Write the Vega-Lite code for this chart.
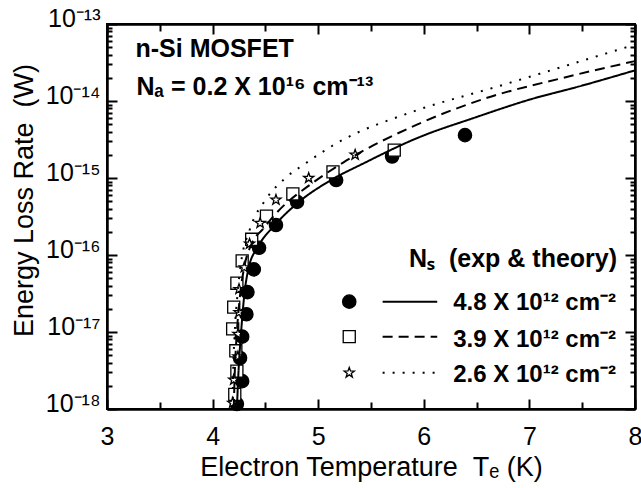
{
  "$schema": "https://vega.github.io/schema/vega-lite/v6.json",
  "width": 528,
  "height": 385,
  "autosize": {"type": "none"},
  "padding": {"left": 107, "top": 24, "right": 6, "bottom": 79},
  "background": "white",
  "config": {
    "view": {"stroke": "black", "strokeWidth": 2}
  },
  "datasets": {
    "theory": [
      {"Ns": "4.8", "T": 4.23, "P": 1.0e-18},
      {"Ns": "4.8", "T": 4.245, "P": 3.0e-18},
      {"Ns": "4.8", "T": 4.27, "P": 1.0e-17},
      {"Ns": "4.8", "T": 4.30, "P": 3.0e-17},
      {"Ns": "4.8", "T": 4.34, "P": 6.7e-17},
      {"Ns": "4.8", "T": 4.43, "P": 1.28e-16},
      {"Ns": "4.8", "T": 4.59, "P": 2.45e-16},
      {"Ns": "4.8", "T": 4.81, "P": 4.8e-16},
      {"Ns": "4.8", "T": 5.11, "P": 9.2e-16},
      {"Ns": "4.8", "T": 5.43, "P": 1.55e-15},
      {"Ns": "4.8", "T": 5.96, "P": 3.4e-15},
      {"Ns": "4.8", "T": 6.47, "P": 6.0e-15},
      {"Ns": "4.8", "T": 7.01, "P": 1.05e-14},
      {"Ns": "4.8", "T": 7.51, "P": 1.6e-14},
      {"Ns": "4.8", "T": 8.0, "P": 2.5e-14},
      {"Ns": "3.9", "T": 4.20, "P": 1.0e-18},
      {"Ns": "3.9", "T": 4.21, "P": 3.0e-18},
      {"Ns": "3.9", "T": 4.23, "P": 1.0e-17},
      {"Ns": "3.9", "T": 4.26, "P": 3.0e-17},
      {"Ns": "3.9", "T": 4.30, "P": 7.0e-17},
      {"Ns": "3.9", "T": 4.37, "P": 1.4e-16},
      {"Ns": "3.9", "T": 4.48, "P": 2.2e-16},
      {"Ns": "3.9", "T": 4.62, "P": 3.7e-16},
      {"Ns": "3.9", "T": 4.94, "P": 8.5e-16},
      {"Ns": "3.9", "T": 5.24, "P": 1.6e-15},
      {"Ns": "3.9", "T": 5.93, "P": 4.9e-15},
      {"Ns": "3.9", "T": 6.6, "P": 1.1e-14},
      {"Ns": "3.9", "T": 7.32, "P": 2.0e-14},
      {"Ns": "3.9", "T": 8.0, "P": 3.3e-14},
      {"Ns": "2.6", "T": 4.19, "P": 1.0e-18},
      {"Ns": "2.6", "T": 4.195, "P": 3.0e-18},
      {"Ns": "2.6", "T": 4.21, "P": 1.0e-17},
      {"Ns": "2.6", "T": 4.235, "P": 3.0e-17},
      {"Ns": "2.6", "T": 4.27, "P": 8.0e-17},
      {"Ns": "2.6", "T": 4.35, "P": 2.1e-16},
      {"Ns": "2.6", "T": 4.51, "P": 5.4e-16},
      {"Ns": "2.6", "T": 4.69, "P": 1.0e-15},
      {"Ns": "2.6", "T": 4.88, "P": 1.55e-15},
      {"Ns": "2.6", "T": 5.17, "P": 2.8e-15},
      {"Ns": "2.6", "T": 5.9, "P": 7.3e-15},
      {"Ns": "2.6", "T": 6.69, "P": 1.53e-14},
      {"Ns": "2.6", "T": 7.32, "P": 2.8e-14},
      {"Ns": "2.6", "T": 8.0, "P": 5.4e-14}
    ],
    "exp": [
      {"Ns": "4.8", "T": 4.23, "P": 1.16e-18},
      {"Ns": "4.8", "T": 4.28, "P": 2.3e-18},
      {"Ns": "4.8", "T": 4.26, "P": 4.6e-18},
      {"Ns": "4.8", "T": 4.28, "P": 8.7e-18},
      {"Ns": "4.8", "T": 4.32, "P": 1.7e-17},
      {"Ns": "4.8", "T": 4.33, "P": 3.3e-17},
      {"Ns": "4.8", "T": 4.39, "P": 6.5e-17},
      {"Ns": "4.8", "T": 4.44, "P": 1.24e-16},
      {"Ns": "4.8", "T": 4.60, "P": 2.45e-16},
      {"Ns": "4.8", "T": 4.80, "P": 4.9e-16},
      {"Ns": "4.8", "T": 5.17, "P": 9.4e-16},
      {"Ns": "4.8", "T": 5.70, "P": 1.9e-15},
      {"Ns": "4.8", "T": 6.39, "P": 3.6e-15},
      {"Ns": "3.9", "T": 4.21, "P": 1.55e-18},
      {"Ns": "3.9", "T": 4.23, "P": 3.1e-18},
      {"Ns": "3.9", "T": 4.22, "P": 5.7e-18},
      {"Ns": "3.9", "T": 4.19, "P": 1.1e-17},
      {"Ns": "3.9", "T": 4.20, "P": 2.1e-17},
      {"Ns": "3.9", "T": 4.23, "P": 4.3e-17},
      {"Ns": "3.9", "T": 4.28, "P": 8.4e-17},
      {"Ns": "3.9", "T": 4.37, "P": 1.6e-16},
      {"Ns": "3.9", "T": 4.51, "P": 3.2e-16},
      {"Ns": "3.9", "T": 4.76, "P": 6.2e-16},
      {"Ns": "3.9", "T": 5.14, "P": 1.2e-15},
      {"Ns": "3.9", "T": 5.72, "P": 2.3e-15},
      {"Ns": "2.6", "T": 4.19, "P": 1.2e-18},
      {"Ns": "2.6", "T": 4.20, "P": 2.4e-18},
      {"Ns": "2.6", "T": 4.24, "P": 4.8e-18},
      {"Ns": "2.6", "T": 4.24, "P": 9.4e-18},
      {"Ns": "2.6", "T": 4.25, "P": 1.8e-17},
      {"Ns": "2.6", "T": 4.25, "P": 3.6e-17},
      {"Ns": "2.6", "T": 4.30, "P": 6.9e-17},
      {"Ns": "2.6", "T": 4.35, "P": 1.4e-16},
      {"Ns": "2.6", "T": 4.45, "P": 2.6e-16},
      {"Ns": "2.6", "T": 4.60, "P": 5.2e-16},
      {"Ns": "2.6", "T": 4.91, "P": 1.0e-15},
      {"Ns": "2.6", "T": 5.35, "P": 2.0e-15}
    ]
  },
  "layer": [
    {
      "data": {"name": "exp"},
      "mark": {"type": "point", "filled": true, "stroke": "black", "strokeWidth": 1.3, "opacity": 1},
      "encoding": {
        "x": {"field": "T", "type": "quantitative", "scale": {"domain": [3, 8], "nice": false, "zero": false},
          "axis": {"orient": "bottom", "values": [3.5, 4.5, 5.5, 6.5, 7.5], "tickSize": -7, "tickWidth": 2, "tickColor": "black", "domainColor": "black", "domainWidth": 2, "gridOpacity": 0, "labels": false, "title": null}},
        "y": {"field": "P", "type": "quantitative", "scale": {"type": "log", "domain": [1e-18, 1e-13], "nice": false},
          "axis": {"orient": "left", "values": [2e-18, 3e-18, 4e-18, 5e-18, 6e-18, 7e-18, 8e-18, 9e-18, 2e-17, 3e-17, 4e-17, 5e-17, 6e-17, 7e-17, 8e-17, 9e-17, 2e-16, 3e-16, 4e-16, 5e-16, 6e-16, 7e-16, 8e-16, 9e-16, 2e-15, 3e-15, 4e-15, 5e-15, 6e-15, 7e-15, 8e-15, 9e-15, 2e-14, 3e-14, 4e-14, 5e-14, 6e-14, 7e-14, 8e-14, 9e-14], "tickSize": -5, "tickWidth": 2, "tickColor": "black", "domainColor": "black", "domainWidth": 2, "gridOpacity": 0, "labels": false, "title": null}},
        "shape": {"field": "Ns", "type": "nominal", "scale": {"domain": ["4.8", "3.9", "2.6"], "range": ["circle", "square", "M0,-1L0.235,-0.324L0.951,-0.309L0.38,0.124L0.588,0.809L0,0.4L-0.588,0.809L-0.38,0.124L-0.951,-0.309L-0.235,-0.324Z"]}, "legend": null},
        "fill": {"field": "Ns", "type": "nominal", "scale": {"domain": ["4.8", "3.9", "2.6"], "range": ["black", "white", "white"]}, "legend": null},
        "size": {"field": "Ns", "type": "ordinal", "scale": {"domain": ["4.8", "3.9", "2.6"], "range": [177, 114, 161]}, "legend": null}
      }
    },
    {
      "data": {"name": "theory"},
      "mark": {"type": "line", "color": "black", "strokeWidth": 2, "interpolate": "monotone"},
      "encoding": {
        "x": {"field": "T", "type": "quantitative", "scale": {"domain": [3, 8], "nice": false, "zero": false},
          "axis": {"orient": "bottom", "values": [3, 4, 5, 6, 7, 8], "format": "d", "tickSize": -10, "tickWidth": 2, "tickColor": "black", "domainColor": "black", "domainWidth": 2, "gridOpacity": 0,
            "labelFont": "Liberation Sans", "labelColor": "black", "labelFontSize": 25, "labelPadding": 25, "labelFlush": false, "labelOverlap": false,
            "title": "Electron Temperature \u00a0Tₑ (K)", "titleFont": "Liberation Sans", "titleColor": "black", "titleFontSize": 27, "titleFontWeight": "normal", "titleX": 264, "titleY": 66, "titleBaseline": "alphabetic", "titleAlign": "center"}},
        "y": {"field": "P", "type": "quantitative", "scale": {"type": "log", "domain": [1e-18, 1e-13], "nice": false},
          "axis": {"orient": "left", "values": [1e-18, 1e-17, 1e-16, 1e-15, 1e-14, 1e-13], "tickSize": -10, "tickWidth": 2, "tickColor": "black", "domainColor": "black", "domainWidth": 2, "gridOpacity": 0,
            "labelFont": "Liberation Sans", "labelColor": "black", "labelFontSize": 25, "labelPadding": 17, "labelBaseline": "alphabetic", "labelOffset": 2, "labelAlign": "right", "labelFlush": false, "labelOverlap": false,
            "labelExpr": "'10' + (datum.value > 5e-14 ? '⁻¹³' : datum.value > 5e-15 ? '⁻¹⁴' : datum.value > 5e-16 ? '⁻¹⁵' : datum.value > 5e-17 ? '⁻¹⁶' : datum.value > 5e-18 ? '⁻¹⁷' : '⁻¹⁸')",
            "title": "Energy Loss Rate \u00a0(W)", "titleFont": "Liberation Sans", "titleColor": "black", "titleFontSize": 27, "titleFontWeight": "normal", "titleX": -75, "titleY": 176, "titleAngle": 270, "titleBaseline": "alphabetic", "titleAlign": "center"}},
        "strokeDash": {"field": "Ns", "type": "nominal", "scale": {"domain": ["4.8", "3.9", "2.6"], "range": [[1, 0], [10, 6], [2, 8]]}, "legend": null}
      }
    },
    {
      "data": {"name": "theory"},
      "mark": {"type": "point", "opacity": 0},
      "encoding": {
        "x": {"field": "T", "type": "quantitative", "axis": {"orient": "top", "values": [3, 4, 5, 6, 7, 8], "tickSize": -10, "tickWidth": 2, "tickColor": "black", "domainColor": "black", "domainWidth": 2, "gridOpacity": 0, "labels": false, "title": null}},
        "y": {"field": "P", "type": "quantitative", "axis": {"orient": "right", "values": [1e-18, 1e-17, 1e-16, 1e-15, 1e-14, 1e-13], "tickSize": -10, "tickWidth": 2, "tickColor": "black", "domainColor": "black", "domainWidth": 2, "gridOpacity": 0, "labels": false, "title": null}}
      }
    },
    {
      "data": {"name": "theory"},
      "mark": {"type": "point", "opacity": 0},
      "encoding": {
        "x": {"field": "T", "type": "quantitative", "axis": {"orient": "top", "values": [3.5, 4.5, 5.5, 6.5, 7.5], "tickSize": -7, "tickWidth": 2, "tickColor": "black", "domainColor": "black", "domainWidth": 2, "gridOpacity": 0, "labels": false, "title": null}},
        "y": {"field": "P", "type": "quantitative", "axis": {"orient": "right", "values": [2e-18, 3e-18, 4e-18, 5e-18, 6e-18, 7e-18, 8e-18, 9e-18, 2e-17, 3e-17, 4e-17, 5e-17, 6e-17, 7e-17, 8e-17, 9e-17, 2e-16, 3e-16, 4e-16, 5e-16, 6e-16, 7e-16, 8e-16, 9e-16, 2e-15, 3e-15, 4e-15, 5e-15, 6e-15, 7e-15, 8e-15, 9e-15, 2e-14, 3e-14, 4e-14, 5e-14, 6e-14, 7e-14, 8e-14, 9e-14], "tickSize": -5, "tickWidth": 2, "tickColor": "black", "domainColor": "black", "domainWidth": 2, "gridOpacity": 0, "labels": false, "title": null}}
      }
    },
    {
      "data": {"values": [{"note": "n-Si MOSFET"}]},
      "mark": {"type": "text", "align": "left", "baseline": "alphabetic", "fontSize": 25, "fontWeight": "bold", "font": "Liberation Sans", "color": "black"},
      "encoding": {
        "x": {"datum": 3.27, "type": "quantitative", "axis": null},
        "y": {"datum": 3.76e-14, "type": "quantitative", "axis": null},
        "text": {"field": "note"}
      }
    },
    {
      "data": {"values": [{"note": "Nₐ = 0.2 X 10¹⁶ cm⁻¹³"}]},
      "mark": {"type": "text", "align": "left", "baseline": "alphabetic", "fontSize": 25, "fontWeight": "bold", "font": "Liberation Sans", "color": "black"},
      "encoding": {
        "x": {"datum": 3.28, "type": "quantitative", "axis": null},
        "y": {"datum": 1.2e-14, "type": "quantitative", "axis": null},
        "text": {"field": "note"}
      }
    },
    {
      "data": {"values": [{"note": "Nₛ \u00a0(exp & theory)"}]},
      "mark": {"type": "text", "align": "right", "baseline": "alphabetic", "fontSize": 25, "fontWeight": "bold", "font": "Liberation Sans", "color": "black"},
      "encoding": {
        "x": {"datum": 7.83, "type": "quantitative", "axis": null},
        "y": {"datum": 7.05e-17, "type": "quantitative", "axis": null},
        "text": {"field": "note"}
      }
    },
    {
      "data": {"values": [{"Ns": "4.8", "label": "4.8 X 10¹² cm⁻²"}]},
      "layer": [
        {"mark": {"type": "point", "filled": true, "stroke": "black", "strokeWidth": 1.3, "opacity": 1},
         "encoding": {"x": {"datum": 5.294, "type": "quantitative", "axis": null}, "y": {"datum": 2.48e-17, "type": "quantitative", "axis": null},
           "shape": {"field": "Ns", "type": "nominal", "legend": null}, "fill": {"field": "Ns", "type": "nominal", "legend": null}, "size": {"field": "Ns", "type": "ordinal", "legend": null}}},
        {"mark": {"type": "rule", "color": "black", "strokeWidth": 2},
         "encoding": {"x": {"datum": 5.61, "type": "quantitative", "axis": null}, "x2": {"datum": 6.127}, "y": {"datum": 2.48e-17, "type": "quantitative", "axis": null},
           "strokeDash": {"field": "Ns", "type": "nominal", "legend": null}}},
        {"mark": {"type": "text", "align": "right", "baseline": "alphabetic", "fontSize": 24, "fontWeight": "bold", "font": "Liberation Sans", "color": "black"},
         "encoding": {"x": {"datum": 7.82, "type": "quantitative", "axis": null}, "y": {"datum": 1.93e-17, "type": "quantitative", "axis": null}, "text": {"field": "label"}}}
      ]
    },
    {
      "data": {"values": [{"Ns": "3.9", "label": "3.9 X 10¹² cm⁻²"}]},
      "layer": [
        {"mark": {"type": "point", "filled": true, "stroke": "black", "strokeWidth": 1.3, "opacity": 1},
         "encoding": {"x": {"datum": 5.294, "type": "quantitative", "axis": null}, "y": {"datum": 8.7e-18, "type": "quantitative", "axis": null},
           "shape": {"field": "Ns", "type": "nominal", "legend": null}, "fill": {"field": "Ns", "type": "nominal", "legend": null}, "size": {"field": "Ns", "type": "ordinal", "legend": null}}},
        {"mark": {"type": "rule", "color": "black", "strokeWidth": 2},
         "encoding": {"x": {"datum": 5.61, "type": "quantitative", "axis": null}, "x2": {"datum": 6.127}, "y": {"datum": 8.7e-18, "type": "quantitative", "axis": null},
           "strokeDash": {"field": "Ns", "type": "nominal", "legend": null}}},
        {"mark": {"type": "text", "align": "right", "baseline": "alphabetic", "fontSize": 24, "fontWeight": "bold", "font": "Liberation Sans", "color": "black"},
         "encoding": {"x": {"datum": 7.82, "type": "quantitative", "axis": null}, "y": {"datum": 6.45e-18, "type": "quantitative", "axis": null}, "text": {"field": "label"}}}
      ]
    },
    {
      "data": {"values": [{"Ns": "2.6", "label": "2.6 X 10¹² cm⁻²"}]},
      "layer": [
        {"mark": {"type": "point", "filled": true, "stroke": "black", "strokeWidth": 1.3, "opacity": 1},
         "encoding": {"x": {"datum": 5.294, "type": "quantitative", "axis": null}, "y": {"datum": 2.96e-18, "type": "quantitative", "axis": null},
           "shape": {"field": "Ns", "type": "nominal", "legend": null}, "fill": {"field": "Ns", "type": "nominal", "legend": null}, "size": {"field": "Ns", "type": "ordinal", "legend": null}}},
        {"mark": {"type": "rule", "color": "black", "strokeWidth": 2},
         "encoding": {"x": {"datum": 5.61, "type": "quantitative", "axis": null}, "x2": {"datum": 6.127}, "y": {"datum": 2.96e-18, "type": "quantitative", "axis": null},
           "strokeDash": {"field": "Ns", "type": "nominal", "legend": null}}},
        {"mark": {"type": "text", "align": "right", "baseline": "alphabetic", "fontSize": 24, "fontWeight": "bold", "font": "Liberation Sans", "color": "black"},
         "encoding": {"x": {"datum": 7.82, "type": "quantitative", "axis": null}, "y": {"datum": 2.26e-18, "type": "quantitative", "axis": null}, "text": {"field": "label"}}}
      ]
    }
  ],
  "resolve": {"axis": {"x": "independent", "y": "independent"}}
}
